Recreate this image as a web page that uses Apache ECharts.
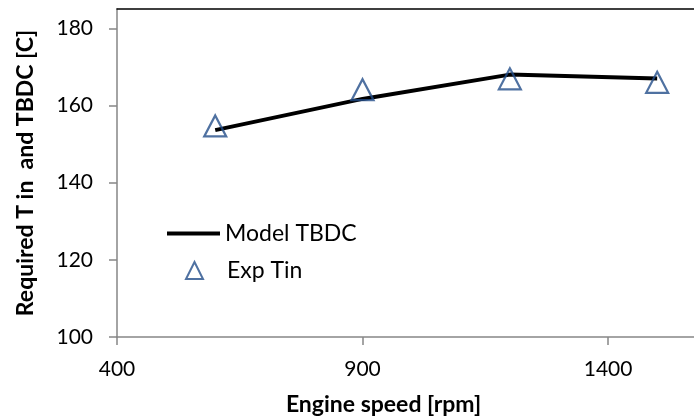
<!DOCTYPE html>
<html><head><meta charset="utf-8">
<script src="https://cdn.jsdelivr.net/npm/echarts@6/dist/echarts.min.js"></script>
<style>html,body{margin:0;padding:0;background:#fff}#c{width:694px;height:418px}</style>
</head><body><div id="c"></div>
<script>
const speeds = [600, 900, 1200, 1500];
const modelTBDC = [153.6, 161.7, 168.0, 167.0];
const expTin = [154.7, 164.1, 166.9, 166.0];
const xTicks = [400, 900, 1400];
const yTicks = [100, 120, 140, 160, 180];

const F = 'Lato';
const BLUE = '#234D8A';
const chart = echarts.init(document.getElementById('c'), null, {renderer: 'canvas'});
chart.setOption({
  animation: false,
  backgroundColor: '#fff',
  grid: {left: 117, top: 9, right: 0, bottom: 81, outerBoundsMode: 'none'},
  xAxis: [{
    type: 'value', min: 400, max: 1575, interval: 500,
    name: 'Engine speed [rpm]', nameLocation: 'middle', nameGap: 56,
    nameTextStyle: {fontFamily: F, fontWeight: 'bold', fontSize: 23, color: '#000', padding: [0, 44, 0, 0]},
    axisLine: {show: true, lineStyle: {color: '#868686', width: 1.5}},
    axisTick: {show: true, length: 8, customValues: xTicks, lineStyle: {color: '#868686', width: 1.5}},
    axisLabel: {fontFamily: F, fontSize: 21, color: '#000', margin: 22, customValues: xTicks,
      formatter: v => String(v)},
    splitLine: {show: false}
  }, {
    type: 'value', position: 'top', min: 400, max: 1575,
    axisLine: {show: true, lineStyle: {color: '#000', width: 1.5}},
    axisTick: {show: false}, axisLabel: {show: false}, splitLine: {show: false}
  }],
  yAxis: {
    type: 'value', min: 100, max: 185, interval: 20,
    name: 'Required T in  and TBDC [C]', nameLocation: 'middle', nameGap: 80,
    nameTextStyle: {fontFamily: F, fontWeight: 'bold', fontSize: 23, color: '#000'},
    axisLine: {show: true, lineStyle: {color: '#868686', width: 1.5}},
    axisTick: {show: true, length: 8, customValues: yTicks, lineStyle: {color: '#868686', width: 1.5}},
    axisLabel: {fontFamily: F, fontSize: 21, color: '#000', margin: 24, customValues: yTicks,
      formatter: v => String(v)},
    splitLine: {show: false}
  },
  legend: [
    {data: [{name: 'Model TBDC', icon: 'rect'}], left: 167, top: 222, padding: 0, itemWidth: 53, itemHeight: 4,
     itemStyle: {color: '#000'},
     textStyle: {fontFamily: F, fontSize: 23, color: '#000'}},
    {data: [{name: 'Exp Tin', icon: 'triangle'}], left: 185, top: 259, padding: 0, itemWidth: 17, itemHeight: 17,
     textStyle: {fontFamily: F, fontSize: 23, color: '#000', padding: [0, 0, 0, 19]},
     itemStyle: {color: '#fff', borderColor: BLUE, borderWidth: 2}}
  ],
  series: [
    {name: 'Model TBDC', type: 'line', data: speeds.map((s, i) => [s, modelTBDC[i]]),
     showSymbol: false, symbol: 'none', lineStyle: {color: '#000', width: 4}, itemStyle: {color: '#000'}, z: 2},
    {name: 'Exp Tin', type: 'scatter', data: speeds.map((s, i) => [s, expTin[i]]),
     symbol: 'triangle', symbolSize: [22, 21],
     itemStyle: {color: 'rgba(255,255,255,0)', borderColor: BLUE, borderWidth: 2.2}, z: 3}
  ]
});
</script></body></html>
